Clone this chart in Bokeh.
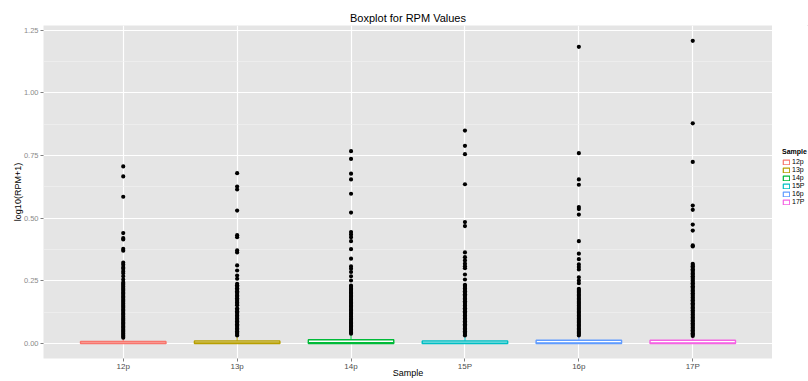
from bokeh.plotting import figure
from bokeh.layouts import row
from bokeh.models import (FactorRange, Range1d, ColumnDataSource, Legend, LegendItem,
                          SingleIntervalTicker, NumeralTickFormatter)
from bokeh.embed import file_html
from bokeh.resources import INLINE

samples = ["12p", "13p", "14p", "15P", "16p", "17P"]
colors = ["#F8766D", "#B79F00", "#00BA38", "#00BFC4", "#619CFF", "#F564E3"]

# box statistics (log10(RPM+1))
q1 = [0.0, 0.0, 0.0, 0.0, 0.0, 0.0]
median = [0.001, 0.002, 0.003, 0.001, 0.002, 0.002]
q3 = [0.008, 0.010, 0.015, 0.010, 0.013, 0.013]
whisker_hi = [0.020, 0.025, 0.037, 0.025, 0.032, 0.030]

# outliers
out_12p = [0.706, 0.666, 0.585, 0.440, 0.420, 0.415, 0.377, 0.370, 0.322, 0.314, 0.304,
           0.298, 0.288, 0.280, 0.268, 0.255, 0.244, 0.238, 0.233, 0.227, 0.221, 0.216,
           0.210, 0.204, 0.199, 0.193, 0.187, 0.182, 0.176, 0.170, 0.165, 0.159, 0.153,
           0.148, 0.142, 0.136, 0.131, 0.125, 0.119, 0.114, 0.108, 0.102, 0.097, 0.091,
           0.085, 0.080, 0.074, 0.068, 0.063, 0.057, 0.051, 0.046, 0.040, 0.034, 0.029,
           0.023]
out_13p = [0.679, 0.626, 0.614, 0.530, 0.432, 0.424, 0.371, 0.363, 0.311, 0.291, 0.271,
           0.258, 0.238, 0.232, 0.226, 0.220, 0.214, 0.208, 0.203, 0.197, 0.191, 0.186,
           0.180, 0.174, 0.169, 0.163, 0.157, 0.152, 0.140, 0.134, 0.128, 0.123, 0.117,
           0.111, 0.106, 0.100, 0.094, 0.089, 0.083, 0.077, 0.072, 0.066, 0.060, 0.055,
           0.049, 0.043, 0.038, 0.032]
out_14p = [0.767, 0.736, 0.677, 0.654, 0.597, 0.522, 0.444, 0.435, 0.424, 0.408, 0.376,
           0.338, 0.307, 0.298, 0.285, 0.268, 0.251, 0.231, 0.226, 0.220, 0.215, 0.209,
           0.203, 0.198, 0.192, 0.186, 0.181, 0.175, 0.169, 0.164, 0.158, 0.152, 0.147,
           0.141, 0.135, 0.130, 0.124, 0.118, 0.113, 0.107, 0.101, 0.096, 0.090, 0.084,
           0.079, 0.073, 0.067, 0.062, 0.056, 0.050, 0.045, 0.039]
out_15P = [0.849, 0.788, 0.755, 0.635, 0.484, 0.468, 0.363, 0.344, 0.331, 0.318, 0.308,
           0.300, 0.275, 0.255, 0.234, 0.230, 0.225, 0.219, 0.213, 0.208, 0.202, 0.196,
           0.191, 0.185, 0.179, 0.174, 0.168, 0.162, 0.157, 0.151, 0.145, 0.140, 0.134,
           0.128, 0.123, 0.117, 0.111, 0.106, 0.100, 0.094, 0.089, 0.083, 0.077, 0.072,
           0.066, 0.060, 0.055, 0.049, 0.043, 0.038, 0.032]
out_16p = [1.183, 0.759, 0.654, 0.633, 0.544, 0.536, 0.514, 0.408, 0.358, 0.336, 0.315,
           0.305, 0.295, 0.264, 0.251, 0.240, 0.218, 0.213, 0.208, 0.202, 0.196, 0.191,
           0.185, 0.179, 0.174, 0.168, 0.162, 0.157, 0.151, 0.145, 0.140, 0.134, 0.128,
           0.123, 0.117, 0.111, 0.106, 0.100, 0.094, 0.089, 0.083, 0.077, 0.072, 0.066,
           0.060, 0.055, 0.049, 0.043, 0.038, 0.032]
out_17P = [1.207, 0.878, 0.724, 0.550, 0.533, 0.474, 0.450, 0.391, 0.387, 0.318, 0.313,
           0.308, 0.302, 0.296, 0.291, 0.285, 0.279, 0.274, 0.268, 0.262, 0.257, 0.251,
           0.245, 0.240, 0.234, 0.228, 0.223, 0.217, 0.211, 0.206, 0.200, 0.194, 0.189,
           0.183, 0.177, 0.172, 0.166, 0.160, 0.155, 0.149, 0.143, 0.138, 0.132, 0.126,
           0.121, 0.115, 0.109, 0.104, 0.098, 0.092, 0.087, 0.081, 0.075, 0.070, 0.064,
           0.058, 0.053, 0.047, 0.041, 0.036, 0.030]
outliers = [out_12p, out_13p, out_14p, out_15P, out_16p, out_17P]

FONT = "Liberation Sans"

p = figure(width=772, height=381,
           x_range=FactorRange(*samples, range_padding=0.2, range_padding_units="absolute"),
           y_range=Range1d(-0.06, 1.268),
           output_backend="svg", toolbar_location=None,
           min_border_left=43, min_border_right=0, min_border_top=25, min_border_bottom=23,
           background_fill_color="#E5E5E5", border_fill_color="white",
           outline_line_color=None, title="Boxplot for RPM Values")

p.title.align = "center"
p.title.text_font = FONT
p.title.text_font_size = "11px"
p.title.text_font_style = "normal"
p.title.text_color = "#000000"
p.title.offset = 0
p.title.standoff = 3

# grid
p.xgrid.grid_line_color = "white"
p.xgrid.grid_line_width = 1.2
p.ygrid.grid_line_color = "white"
p.ygrid.grid_line_width = 1.2
p.ygrid.minor_grid_line_color = "#F2F2F2"
p.ygrid.minor_grid_line_width = 0.6

# axes
p.yaxis.ticker = SingleIntervalTicker(interval=0.25, num_minor_ticks=2)
p.yaxis.formatter = NumeralTickFormatter(format="0.00")
for ax in (p.xaxis[0], p.yaxis[0]):
    ax.axis_line_color = None
    ax.major_tick_line_color = "#7F7F7F"
    ax.major_tick_out = 3
    ax.major_tick_in = 0
    ax.minor_tick_out = 0
    ax.minor_tick_in = 0
    ax.major_label_text_font = FONT
    ax.axis_label_text_font = FONT
    ax.axis_label_text_font_size = "9px"
    ax.axis_label_text_font_style = "normal"
    ax.axis_label_text_color = "#000000"
p.yaxis.major_label_text_font_size = "7.5px"
p.xaxis.major_label_text_font_size = "8px"
p.yaxis.major_label_standoff = 2
p.yaxis.axis_label_standoff = -2
p.xaxis.major_label_standoff = 0
p.xaxis.axis_label_standoff = -6
p.yaxis.major_label_text_color = "#8A8A8A"
p.xaxis.major_label_text_color = "#4D4D4D"
p.xaxis.axis_label = "Sample"
p.yaxis.axis_label = "log10(RPM+1)"

# boxes
src = ColumnDataSource(dict(sample=samples, q1=q1, q3=q3, med=median,
                            whi=whisker_hi, color=colors))
p.segment(x0="sample", y0="q3", x1="sample", y1="whi", line_color="color",
          line_width=1, source=src)
p.vbar(x="sample", bottom="q1", top="q3", width=0.75, fill_color="white",
       line_color="color", line_width=1.4, source=src)
p.rect(x="sample", y="med", width=0.75, height=0.0001, fill_color=None,
       line_color="color", line_width=1.3, source=src)

# outliers
ox, oy = [], []
for s, vals in zip(samples, outliers):
    ox += [s] * len(vals)
    oy += vals
p.scatter(x=ox, y=oy, size=4.2, fill_color="black", line_color=None)

# legend panel (right side, partly cut by the window like the original)
lf = figure(width=36, height=381, x_range=Range1d(0, 1), y_range=Range1d(0, 1),
            output_backend="svg", toolbar_location=None,
            x_axis_type=None, y_axis_type=None,
            min_border_left=0, min_border_right=0, min_border_top=0, min_border_bottom=0,
            outline_line_color=None, background_fill_color="white",
            border_fill_color="white")
lf.xgrid.visible = False
lf.ygrid.visible = False
items = []
for s, c in zip(samples, colors):
    # legend key renderer kept outside the visible range of this small panel
    r = lf.vbar(x=[5], top=[6], bottom=[5], width=0.5, fill_color="white",
                line_color=c, line_width=1.2)
    items.append(LegendItem(label=s, renderers=[r]))
legend = Legend(items=items, location=(10, 153), title="Sample",
                title_text_font=FONT, title_text_font_size="7px",
                title_text_font_style="bold", title_text_color="#000000",
                title_standoff=3,
                label_text_font=FONT, label_text_font_size="7px",
                label_text_color="#000000",
                label_height=6, label_standoff=2,
                glyph_width=8, glyph_height=6, spacing=1,
                padding=0, margin=0, border_line_color=None,
                background_fill_color="white", background_fill_alpha=0)
lf.add_layout(legend)

layout = row(p, lf, spacing=0)
open("out.html", "w").write(file_html(layout, INLINE))
